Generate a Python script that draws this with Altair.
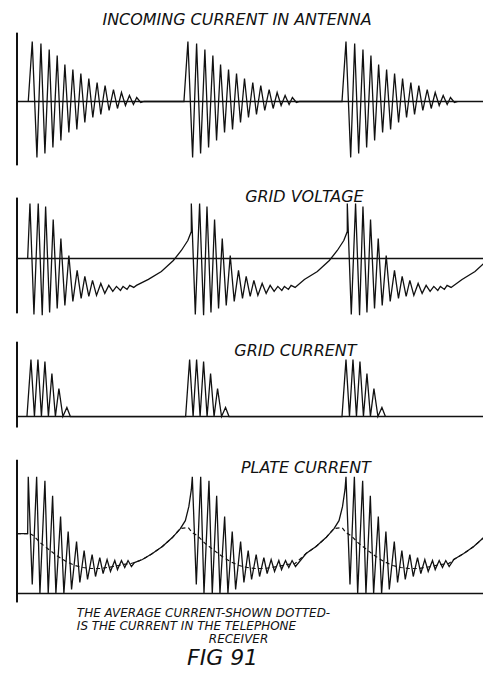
import altair as alt
import pandas as pd

# ------------------------------------------------------------------
# Values (time axis: units from the left axis line,
# amplitudes in the drawing's own units, 0 = base line of each trace)
# ------------------------------------------------------------------

# Panel 1 - incoming current in antenna (damped trains)
ANT_PEAKS = [15.3, 171.3, 329.7]
ANT_T = [-4, 0, 4.7, 8.7, 12.7, 17, 20.7, 25, 28.7, 32.7, 36.7, 40.7, 44.7, 48.7,
         52.7, 56.7, 60.7, 65, 68.7, 73, 77, 81.4, 85.4, 89.4, 93.4, 97.4, 101.4,
         104.7, 108.7, 112]
ANT_V = [0, 60, -56, 58, -52, 52, -46, 46, -39, 37, -31, 32, -28, 28, -21, 23, -16,
         19, -13, 16, -9, 12, -7, 9, -4, 6, -3, 4, -1, 0]
ANT_AXIS = [-64, 69]

# Panel 2 - grid voltage
GV_PEAKS = [13, 174.7, 331]
GV_LEAD_T = [-2.3]
GV_LEAD_V = [0]
GV_T = [0, 4, 8.3, 12.3, 15.7, 19.7, 23.3, 27.3, 31, 35, 39, 43, 47.3, 51.3, 55, 59,
        62.7, 66.7, 71, 75, 79, 83, 86.7, 90.7, 93.3, 97.3, 100, 104]
GV_V = [55, -56, 55, -57, 52, -54, 39, -50, 20, -47, 3, -43, -12, -40, -18, -38,
        -22, -37, -25, -35, -27, -33, -28, -32, -28, -31, -27, -29]
GV_RISE_T = [-55, -43, -30, -18, -10, -3.5, 0]      # relative to the next train
GV_RISE_V = [-27, -21, -13, -2, 8, 18, 27]
GV_AXIS = [-55, 61]

# Panel 3 - grid current
GC_PEAKS = [14, 173, 329.7]
GC_T = [-4, 0, 3.5, 7, 10.5, 14, 17.5, 21, 24.5, 28, 32, 36, 39.5]
GC_V = [0, 57, 0, 57, 0, 55, 0, 43, 0, 28, 0, 9, 0]
GC_AXIS = [-11, 75]

# Panel 4 - plate current and its average (dotted)
PC_PEAKS = [11.3, 175.7, 329.7]
PC_LEAD_T = [-11.3, -0.6]
PC_LEAD_V = [60, 60]
PC_T = [0, 4, 8.4, 11.7, 16.7, 20, 24.4, 27.7, 32.4, 35.7, 40, 43.4, 48.4, 51.7, 56,
        59.4, 64, 67.4, 71.7, 75, 79, 82.4, 86.7, 89.4, 93.4, 96.7, 100, 103.4]
PC_V = [117, 9, 117, 0, 113, 0, 98, 0, 77, 0, 62, 4, 52, 11, 43, 14, 39, 17, 36, 20,
        34, 22, 33, 24, 33, 26, 33, 27]
PC_RISE_T = [-58, -50, -40, -30, -20, -12, -7, -3.5, -1]
PC_RISE_V = [31, 34, 40, 47, 56, 65, 73, 87, 104]
PC_AVG_T = [0, 5, 13, 22, 30, 38, 47, 55, 63, 73, 85, 95, 103]
PC_AVG_V = [61, 58, 50, 43, 37, 32, 28, 26, 25, 25, 27, 29, 30]
PC_AVG_RISE_T = [-58, -50, -40, -30, -20, -12, -4]
PC_AVG_RISE_V = [31, 34, 40, 47, 56, 65, 66]
PC_AXIS = [-9, 134]

TRAIN_GAP = 158   # spacing used after the last drawn train

TITLES = ["INCOMING CURRENT IN ANTENNA", "GRID VOLTAGE", "GRID CURRENT", "PLATE CURRENT"]
NOTE_LINES = ["THE AVERAGE CURRENT-SHOWN DOTTED-", "IS THE CURRENT IN THE TELEPHONE"]
NOTE_LAST = "RECEIVER"
FIG_LABEL = "FIG 91"

# ------------------------------------------------------------------
INK = "#111111"
FONT = "DejaVu Sans"
X_DOM = [-9, 467]
W = 476


def build_series(peaks, rel_t, rel_v, lead=None, rise=None, gap_after=TRAIN_GAP):
    ts, vs = [], []
    for i, p in enumerate(peaks):
        if i == 0 and lead is not None:
            ts += [p + t for t in lead[0]]
            vs += list(lead[1])
        ts += [p + t for t in rel_t]
        vs += list(rel_v)
        if rise is not None:
            nxt = peaks[i + 1] if i + 1 < len(peaks) else p + gap_after
            last = ts[-1]
            for t, v in zip(*rise):
                if nxt + t > last + 1:
                    ts.append(nxt + t)
                    vs.append(v)
    return pd.DataFrame({"t": ts, "v": vs, "i": list(range(len(ts)))})


def enc_x():
    return alt.X("t:Q", scale=alt.Scale(domain=X_DOM, nice=False, zero=False), axis=None)


def enc_y(dom):
    return alt.Y("v:Q", scale=alt.Scale(domain=dom, nice=False, zero=False), axis=None)


def panel(wave_df, axis_lim, y_dom, height, texts, dashed_df=None):
    x = enc_x()
    y = enc_y(y_dom)
    axis_df = pd.DataFrame({"t": [0], "v": [axis_lim[0]], "v2": [axis_lim[1]]})
    base_df = pd.DataFrame({"t": [0], "t2": [X_DOM[1]], "v": [0]})
    layers = [
        alt.Chart(axis_df).mark_rule(color=INK, strokeWidth=2).encode(x=x, y=y, y2="v2:Q"),
        alt.Chart(base_df).mark_rule(color=INK, strokeWidth=1.6).encode(x=x, x2="t2:Q", y=y),
        alt.Chart(wave_df).mark_line(color=INK, strokeWidth=1.3, clip=True).encode(
            x=x, y=y, order="i:Q"),
    ]
    if dashed_df is not None:
        layers.append(
            alt.Chart(dashed_df).mark_line(color=INK, strokeWidth=1.2, strokeDash=[4, 3],
                                           clip=True).encode(x=x, y=y, order="i:Q"))
    for (df, size, align) in texts:
        layers.append(
            alt.Chart(df).mark_text(font=FONT, fontStyle="italic", fontSize=size,
                                    align=align, baseline="middle", color=INK).encode(
                x=x, y=y, text="label:N"))
    return alt.layer(*layers).properties(width=W, height=height)


def tdf(labels, ts, vs):
    return pd.DataFrame({"label": labels, "t": ts, "v": vs})


ant = build_series(ANT_PEAKS, ANT_T, ANT_V)
gv = build_series(GV_PEAKS, GV_T, GV_V, lead=(GV_LEAD_T, GV_LEAD_V), rise=(GV_RISE_T, GV_RISE_V))
gc = build_series(GC_PEAKS, GC_T, GC_V)
pc = build_series(PC_PEAKS, PC_T, PC_V, lead=(PC_LEAD_T, PC_LEAD_V), rise=(PC_RISE_T, PC_RISE_V))
pc_avg = build_series(PC_PEAKS, PC_AVG_T, PC_AVG_V, lead=(PC_LEAD_T, PC_LEAD_V),
                      rise=(PC_AVG_RISE_T, PC_AVG_RISE_V))

p1 = panel(ant, ANT_AXIS, [-71, 93], 164,
           [(tdf([TITLES[0]], [220.5], [82]), 16, "center")])
p2 = panel(gv, GV_AXIS, [-71.7, 86.3], 158,
           [(tdf([TITLES[1]], [288], [62]), 16, "center")])
p3 = panel(gc, GC_AXIS, [-23.3, 86.7], 110,
           [(tdf([TITLES[2]], [279], [65.7]), 16, "center")])
p4 = panel(pc, PC_AXIS, [-74, 154], 228,
           [(tdf([TITLES[3]], [289.5], [126]), 16, "center"),
            (tdf(NOTE_LINES, [60, 60], [-20, -33]), 12, "left"),
            (tdf([NOTE_LAST], [222], [-46]), 12, "center"),
            (tdf([FIG_LABEL], [206], [-65]), 22, "center")],
           dashed_df=pc_avg)

chart = (
    alt.vconcat(p1, p2, p3, p4, spacing=0)
    .resolve_scale(x="independent", y="independent")
    .properties(padding=0, background="white")
    .configure_view(stroke=None)
    .configure_concat(spacing=0)
)

chart.save("out.html", embed_options={"renderer": "svg", "actions": False})
